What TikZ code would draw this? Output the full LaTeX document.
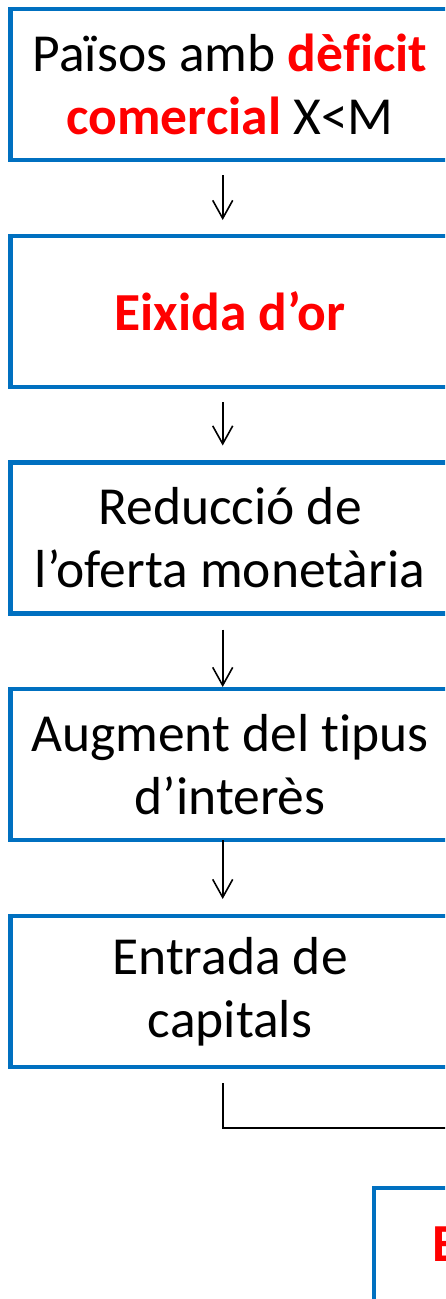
\documentclass[tikz,border=0pt]{standalone}
\usepackage{fontspec}
\setmainfont{Carlito}[Ligatures=NoCommon]
\usetikzlibrary{arrows.meta,calc}
\definecolor{boxblue}{HTML}{0070C0}
\definecolor{hot}{HTML}{FF0000}
\begin{document}
\begin{tikzpicture}[x=1pt,y=-1pt,
  box/.style={draw=boxblue,line width=4.5pt,minimum width=439pt,minimum height=151pt,
    align=center,inner sep=0pt,outer sep=0pt,font=\fontsize{53.5}{63}\selectfont},
  arr/.style={line width=1.6pt,-{Straight Barb[length=18pt,width=20pt]}},
  conn/.style={line width=1.6pt}]
\useasboundingbox (0,0) rectangle (445,1299);
\clip (0,0) rectangle (445,1299);
\fill[white] (0,0) rectangle (445,1299);
\node[box] (b1) at (230,84.25) {Països amb \textcolor{hot}{\bfseries dèficit}\\\textcolor{hot}{\bfseries comercial} X<M};
\node[box] (b2) at (230,311.5) {\textcolor{hot}{\bfseries Eixida d’or}};
\node[box] (b3) at (230,538) {Reducció de\\l’oferta monetària};
\node[box] (b4) at (230,764.5) {Augment del tipus\\d’interès};
\node[box] (b5) at (230,991.5) {Entrada de\\capitals};
\node[draw=boxblue,line width=4.5pt,minimum width=300pt,minimum height=150pt,inner sep=0pt,outer sep=0pt,anchor=north west] (b6) at (374,1188) {};
\node[anchor=base west,inner sep=0pt,font=\fontsize{53.5}{63}\selectfont\bfseries,text=hot] (e6) at (432,1261) {E};
\draw[arr] ($(b1.south)+(-7.3,15.5)$) -- ($(b2.north)+(-7.3,-16)$);
\draw[arr] ($(b2.south)+(-7.3,15)$) -- ($(b3.north)+(-7.3,-17)$);
\draw[arr] ($(b3.south)+(-7.3,16)$) -- ($(b4.north)+(-7.3,-2)$);
\draw[arr] ($(b4.south)+(-7.3,0)$) -- ($(b5.north)+(-7.3,-17)$);
\draw[conn] ($(b5.south)+(-7.3,16)$) |- ($(b6.north)+(0,-60)$) -- (b6.north);
\end{tikzpicture}
\end{document}
